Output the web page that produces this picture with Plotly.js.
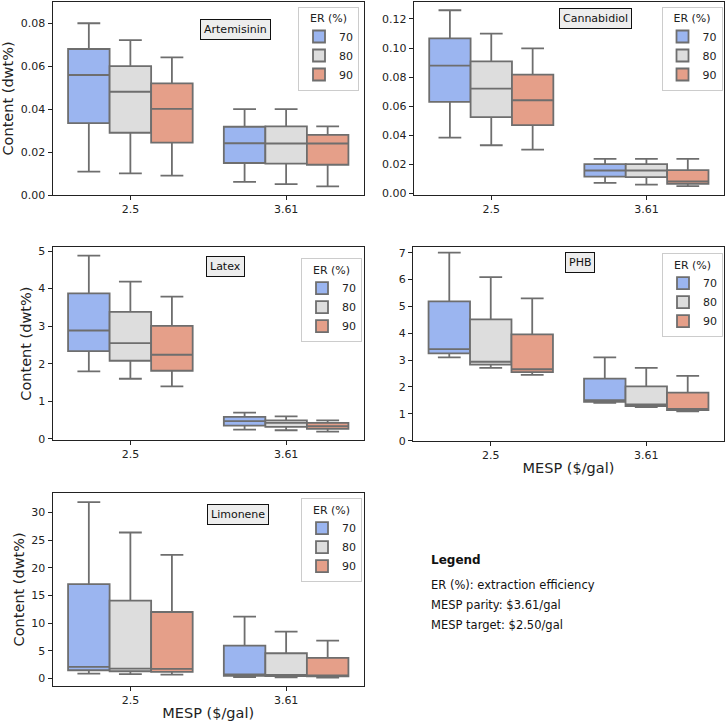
<!DOCTYPE html>
<html>
<head>
<meta charset="utf-8">
<script src="https://cdn.plot.ly/plotly-3.0.1.min.js"></script>
<style>html,body{margin:0;padding:0;background:#fff;}#chart{width:726px;height:725px;}</style>
</head>
<body>
<div id="chart"></div>
<script>
// ---- Data ----
const categories = ["2.5", "3.61"];
const erLevels = ["70", "80", "90"];
const products = ["Artemisinin", "Cannabidiol", "Latex", "PHB", "Limonene"];

// Each entry: [at 2.5, at 3.61]  -- per ER level
const artemisinin = {
  "70": {lo: [0.0109, 0.0061], q1: [0.0335, 0.0149], med: [0.0559, 0.0241], q3: [0.0680, 0.0318], hi: [0.0800, 0.0400]},
  "80": {lo: [0.0101, 0.0051], q1: [0.0290, 0.0146], med: [0.0481, 0.0240], q3: [0.0600, 0.0320], hi: [0.0721, 0.0400]},
  "90": {lo: [0.0090, 0.0040], q1: [0.0244, 0.0141], med: [0.0401, 0.0240], q3: [0.0520, 0.0280], hi: [0.0641, 0.0320]}
};
const cannabidiol = {
  "70": {lo: [0.0383, 0.0071], q1: [0.0629, 0.0114], med: [0.0879, 0.0156], q3: [0.1067, 0.0200], hi: [0.1260, 0.0236]},
  "80": {lo: [0.0330, 0.0059], q1: [0.0523, 0.0110], med: [0.0720, 0.0156], q3: [0.0908, 0.0200], hi: [0.1099, 0.0236]},
  "90": {lo: [0.0300, 0.0048], q1: [0.0468, 0.0064], med: [0.0640, 0.0080], q3: [0.0817, 0.0158], hi: [0.0998, 0.0236]}
};
const latex = {
  "70": {lo: [1.796, 0.248], q1: [2.336, 0.354], med: [2.885, 0.470], q3: [3.876, 0.584], hi: [4.876, 0.700]},
  "80": {lo: [1.600, 0.230], q1: [2.080, 0.320], med: [2.549, 0.425], q3: [3.380, 0.495], hi: [4.186, 0.600]},
  "90": {lo: [1.398, 0.195], q1: [1.814, 0.265], med: [2.239, 0.336], q3: [3.009, 0.425], hi: [3.788, 0.495]}
};
const phb = {
  "70": {lo: [3.10, 1.41], q1: [3.25, 1.45], med: [3.41, 1.51], q3: [5.19, 2.31], hi: [7.00, 3.10]},
  "80": {lo: [2.71, 1.25], q1: [2.83, 1.29], med: [2.94, 1.35], q3: [4.52, 2.02], hi: [6.09, 2.71]},
  "90": {lo: [2.45, 1.09], q1: [2.55, 1.14], med: [2.66, 1.18], q3: [3.96, 1.79], hi: [5.30, 2.41]}
};
const limonene = {
  "70": {lo: [0.90, 0.25], q1: [1.50, 0.50], med: [2.10, 0.75], q3: [17.08, 5.95], hi: [31.9, 11.18]},
  "80": {lo: [0.78, 0.20], q1: [1.32, 0.45], med: [1.80, 0.65], q3: [14.07, 4.57], hi: [26.4, 8.48]},
  "90": {lo: [0.72, 0.15], q1: [1.20, 0.40], med: [1.74, 0.55], q3: [12.03, 3.73], hi: [22.37, 6.85]}
};
const datasets = [artemisinin, cannabidiol, latex, phb, limonene];

const descTitle = "Legend";
const descLines = ["ER (%): extraction efficiency", "MESP parity: $3.61/gal", "MESP target: $2.50/gal"];
const xTitle = "MESP ($/gal)";
const yTitle = "Content (dwt%)";
const legendTitle = "ER (%)";

// ---- Styling ----
const fills = {"70": "#9bb5f0", "80": "#dddddd", "90": "#e59f89"};
const edge = "#6e6e6e";
const FONT = "DejaVu Sans, Liberation Sans, sans-serif";
const FS = 11, FT = 14.5;
const W = 726, H = 725;

// panel geometry in pixels (left, right, top, bottom)
const panels = [
  {l: 52.5, r: 364, t: 2, b: 195},
  {l: 413.7, r: 724, t: 2, b: 195},
  {l: 52.5, r: 364, t: 247.3, b: 440},
  {l: 413, r: 724, t: 247.3, b: 440.7},
  {l: 52.5, r: 364, t: 492.7, b: 686}
];
const yRanges = [[0, 0.0899], [-0.0013, 0.1317], [-0.03, 5.1], [0, 7.2], [-1.35, 33.6]];
const yTicks = [
  {vals: [0, 0.02, 0.04, 0.06, 0.08], fmt: ".2f"},
  {vals: [0, 0.02, 0.04, 0.06, 0.08, 0.10, 0.12], fmt: ".2f"},
  {vals: [0, 1, 2, 3, 4, 5], fmt: "d"},
  {vals: [0, 1, 2, 3, 4, 5, 6, 7], fmt: "d"},
  {vals: [0, 5, 10, 15, 20, 25, 30], fmt: "d"}
];
const labelPos = [[0.589, 0.855], [0.585, 0.916], [0.555, 0.899], [0.538, 0.922], [0.596, 0.886]];
// legend box right/top in pixels
const legendPos = [[359, 6.7], [722.5, 6.7], [362, 258.3], [723, 253.3], [362, 498.3]];
const showYTitle = [true, false, true, false, true];
const showXTitle = [false, false, false, true, true];

const traces = [];
const layout = {
  width: W, height: H,
  margin: {l: 0, r: 0, t: 0, b: 0},
  paper_bgcolor: "#ffffff", plot_bgcolor: "#ffffff",
  font: {family: FONT, size: FS, color: "#222222"},
  boxmode: "group", boxgap: 0.2, boxgroupgap: 0,
  annotations: [], showlegend: true
};

panels.forEach((p, i) => {
  const n = i + 1;
  const xa = "xaxis" + (n === 1 ? "" : n);
  const ya = "yaxis" + (n === 1 ? "" : n);
  const xr = "x" + (n === 1 ? "" : n);
  const yr = "y" + (n === 1 ? "" : n);
  const lg = "legend" + (n === 1 ? "" : n);

  layout[xa] = {
    domain: [p.l / W, p.r / W], anchor: yr, type: "category",
    categoryorder: "array", categoryarray: categories, range: [-0.5, 1.5],
    showline: true, linecolor: "#222", linewidth: 1, mirror: true,
    ticks: "outside", ticklen: 4, tickcolor: "#222", showgrid: false, zeroline: false,
    tickfont: {size: FS, family: FONT, color: "#222"},
    title: showXTitle[i] ? {text: xTitle, font: {size: FT, family: FONT, color: "#222"}, standoff: 1} : {text: ""}
  };
  layout[ya] = {
    domain: [(H - p.b) / H, (H - p.t) / H], anchor: xr, range: yRanges[i],
    tickvals: yTicks[i].vals, tickformat: yTicks[i].fmt,
    showline: true, linecolor: "#222", linewidth: 1, mirror: true,
    ticks: "outside", ticklen: 4, tickcolor: "#222", showgrid: false, zeroline: false,
    tickfont: {size: FS, family: FONT, color: "#222"},
    title: showYTitle[i] ? {text: yTitle, font: {size: FT, family: FONT, color: "#222"}, standoff: 3} : {text: ""}
  };
  layout[lg] = {
    x: legendPos[i][0] / W, y: 1 - legendPos[i][1] / H, xanchor: "right", yanchor: "top",
    xref: "paper", yref: "paper",
    bgcolor: "rgba(255,255,255,0.85)", bordercolor: "#cccccc", borderwidth: 1,
    font: {size: FS, family: FONT, color: "#222"},
    title: {text: legendTitle, side: "top center", font: {size: FS, family: FONT, color: "#222"}},
    tracegroupgap: 0, itemwidth: 30
  };

  const d = datasets[i];
  erLevels.forEach(er => {
    traces.push({
      type: "box", name: er, x: categories, xaxis: xr, yaxis: yr, legend: lg,
      q1: d[er].q1, median: d[er].med, q3: d[er].q3,
      lowerfence: d[er].lo, upperfence: d[er].hi,
      boxpoints: false, fillcolor: fills[er],
      line: {color: edge, width: 1.8}, whiskerwidth: 0.55,
      offsetgroup: er, hoverinfo: "skip"
    });
  });

  layout.annotations.push({
    text: products[i], xref: xr + " domain", yref: yr + " domain",
    x: labelPos[i][0], y: labelPos[i][1], xanchor: "center", yanchor: "middle",
    showarrow: false, font: {size: FS, family: FONT, color: "#111"},
    bgcolor: "#ededed", bordercolor: "#111", borderwidth: 1, borderpad: 3
  });
});

// description block
layout.annotations.push({
  text: "<b>" + descTitle + "</b>", xref: "paper", yref: "paper",
  x: 429 / W, y: 1 - 560 / H, xanchor: "left", yanchor: "middle",
  showarrow: false, font: {size: 12, family: FONT, color: "#111"}
});
descLines.forEach((t, k) => {
  layout.annotations.push({
    text: t, xref: "paper", yref: "paper",
    x: 429 / W, y: 1 - (585 + 20 * k) / H, xanchor: "left", yanchor: "middle",
    showarrow: false, font: {size: 11.5, family: FONT, color: "#111"}
  });
});

Plotly.newPlot("chart", traces, layout, {displayModeBar: false, staticPlot: true});
</script>
</body>
</html>
